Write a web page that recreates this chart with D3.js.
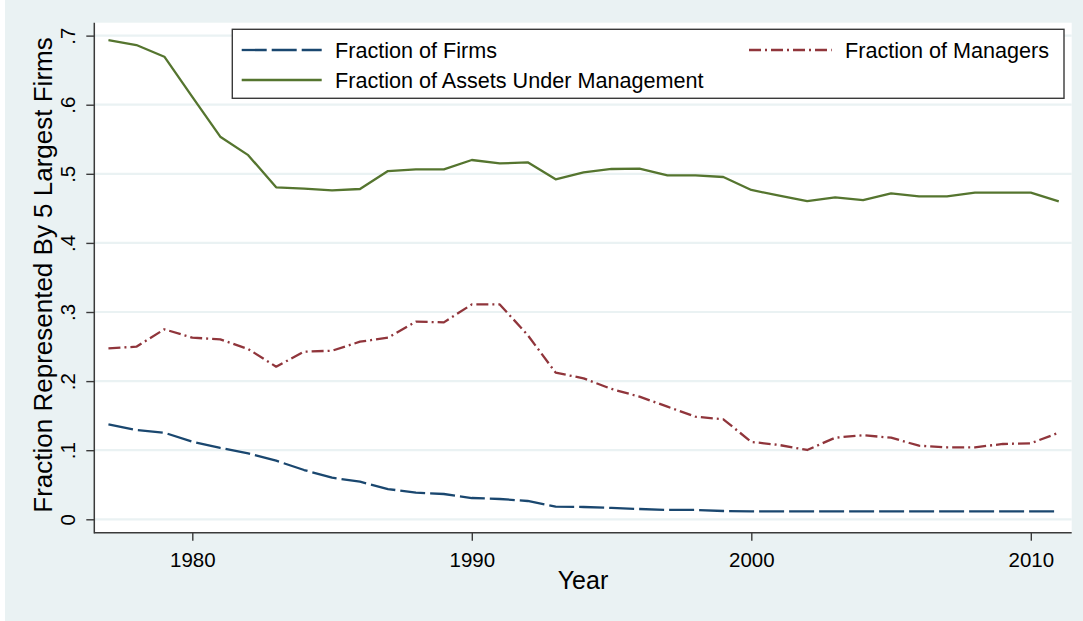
<!DOCTYPE html>
<html>
<head>
<meta charset="utf-8">
<script src="https://cdn.jsdelivr.net/npm/d3@7"></script>
<style>
  html, body { margin: 0; padding: 0; background: #ffffff; }
  svg { display: block; }
  text { font-family: "Liberation Sans", Arial, sans-serif; fill: #000; }
</style>
</head>
<body>
<svg id="chart" width="1083" height="621"></svg>
<script>
// ---- data ----
const years = [1977,1978,1979,1980,1981,1982,1983,1984,1985,1986,1987,1988,1989,1990,1991,1992,1993,1994,1995,1996,1997,1998,1999,2000,2001,2002,2003,2004,2005,2006,2007,2008,2009,2010,2011];
const fractionFirms = [0.1375,0.1292,0.1253,0.1123,0.1032,0.0955,0.0848,0.0713,0.0602,0.0544,0.0438,0.0385,0.0366,0.0308,0.0294,0.0265,0.0183,0.0178,0.0164,0.0149,0.0135,0.0135,0.0120,0.0116,0.0116,0.0116,0.0116,0.0116,0.0116,0.0116,0.0116,0.0116,0.0116,0.0116,0.0116];
const fractionManagers = [0.2475,0.2498,0.2750,0.2628,0.2605,0.2464,0.2209,0.2426,0.2440,0.2570,0.2628,0.2860,0.2850,0.3110,0.3110,0.2667,0.2122,0.2040,0.1886,0.1775,0.1630,0.1485,0.1447,0.1120,0.1075,0.1003,0.1181,0.1216,0.1181,0.1065,0.1042,0.1042,0.1090,0.1100,0.1253];
const fractionAssets = [0.6936,0.6864,0.6695,0.6113,0.5537,0.5270,0.4804,0.4785,0.4760,0.4780,0.5040,0.5065,0.5065,0.5200,0.5150,0.5166,0.4920,0.5020,0.5070,0.5074,0.4978,0.4978,0.4954,0.4766,0.4684,0.4606,0.4660,0.4620,0.4718,0.4674,0.4674,0.4727,0.4727,0.4727,0.4600];
const yTicks = [0,0.1,0.2,0.3,0.4,0.5,0.6,0.7];
const yTickLabels = ["0",".1",".2",".3",".4",".5",".6",".7"];
const xTicks = [1980,1990,2000,2010];
const seriesNames = ["Fraction of Firms","Fraction of Managers","Fraction of Assets Under Management"];
const xTitle = "Year";
const yTitle = "Fraction Represented By 5 Largest Firms";

// ---- layout ----
const W = 1083, H = 621;
const plot = {left: 94.3, right: 1071.7, top: 22.7, bottom: 532.7};
const bg = "#EAF2F3";
const axisColor = "#3a3a3a";
const colors = ["#1A476F", "#90353B", "#55752F"];
const dashes = ["25,5", "12,4,2,4", null];

const svg = d3.select("#chart");
svg.append("rect").attr("x",0).attr("y",0).attr("width",W).attr("height",H).attr("fill",bg);
svg.append("rect").attr("x",0).attr("y",0).attr("width",5).attr("height",H).attr("fill","#ffffff");
svg.append("rect").attr("x",plot.left).attr("y",plot.top)
   .attr("width",plot.right-plot.left).attr("height",plot.bottom-plot.top).attr("fill","#ffffff");

const x = d3.scaleLinear().domain([1976.494, 2011.463]).range([plot.left, plot.right]);
const y = d3.scaleLinear().domain([-0.0194, 0.7187]).range([plot.bottom, plot.top]);

// gridlines
svg.append("g").selectAll("line").data(yTicks).join("line")
  .attr("x1",plot.left).attr("x2",plot.right)
  .attr("y1",d=>y(d)).attr("y2",d=>y(d))
  .attr("stroke",bg).attr("stroke-width",2.2);

// y axis
const yAxis = d3.axisLeft(y).tickValues(yTicks).tickSize(8).tickFormat((d,i)=>yTickLabels[i]);
const gy = svg.append("g").attr("transform",`translate(${plot.left},0)`).call(yAxis);
gy.select(".domain").remove();
gy.selectAll(".tick line").attr("stroke",axisColor).attr("stroke-width",1.4);
gy.selectAll(".tick text")
  .attr("x",0).attr("dy",null).attr("y",0)
  .attr("transform","translate(-19.3,0) rotate(-90)")
  .attr("text-anchor","middle")
  .style("font-size","20.5px").style("font-family",'"Liberation Sans", Arial, sans-serif').attr("fill","#000");

// x axis
const xAxis = d3.axisBottom(x).tickValues(xTicks).tickSize(8).tickFormat(d3.format("d"));
const gx = svg.append("g").attr("transform",`translate(0,${plot.bottom})`).call(xAxis);
gx.select(".domain").remove();
gx.selectAll(".tick line").attr("stroke",axisColor).attr("stroke-width",1.4);
gx.selectAll(".tick text").attr("y",34).attr("dy",null)
  .style("font-size","20.5px").style("font-family",'"Liberation Sans", Arial, sans-serif').attr("fill","#000");

// axis lines
svg.append("line").attr("x1",plot.left).attr("x2",plot.left).attr("y1",plot.top).attr("y2",plot.bottom+0.7)
  .attr("stroke",axisColor).attr("stroke-width",1.5);
svg.append("line").attr("x1",plot.left).attr("x2",plot.right).attr("y1",plot.bottom).attr("y2",plot.bottom)
  .attr("stroke",axisColor).attr("stroke-width",1.5);

// titles
svg.append("text").attr("x",(plot.left+plot.right)/2).attr("y",589).attr("text-anchor","middle")
  .style("font-size","25px").text(xTitle);
svg.append("text").attr("transform",`translate(52,275) rotate(-90)`).attr("text-anchor","middle")
  .style("font-size","26px").text(yTitle);

// lines
const allSeries = [fractionFirms, fractionManagers, fractionAssets];
const lineGen = d3.line().x((d,i)=>x(years[i])).y(d=>y(d));
allSeries.forEach((s,k)=>{
  svg.append("path").datum(s).attr("d",lineGen).attr("fill","none")
    .attr("stroke",colors[k]).attr("stroke-width",2.3)
    .attr("stroke-dasharray",dashes[k]).attr("stroke-linejoin","round");
});

// legend
const lg = svg.append("g");
lg.append("rect").attr("x",232.3).attr("y",29.3).attr("width",1064-232.3).attr("height",98.3-29.3)
  .attr("fill","#fff").attr("stroke",axisColor).attr("stroke-width",1.4);
const legendItems = [
  {k:0, x1:241.7, x2:321.7, tx:335, yy:50},
  {k:1, x1:749, x2:831.7, tx:845, yy:50},
  {k:2, x1:241.7, x2:321.7, tx:335, yy:80}
];
legendItems.forEach(it=>{
  lg.append("line").attr("x1",it.x1).attr("x2",it.x2).attr("y1",it.yy).attr("y2",it.yy)
    .attr("stroke",colors[it.k]).attr("stroke-width",2.3).attr("stroke-dasharray",dashes[it.k]);
  lg.append("text").attr("x",it.tx).attr("y",it.yy+7.7).style("font-size","21.6px").text(seriesNames[it.k]);
});
</script>
</body>
</html>
